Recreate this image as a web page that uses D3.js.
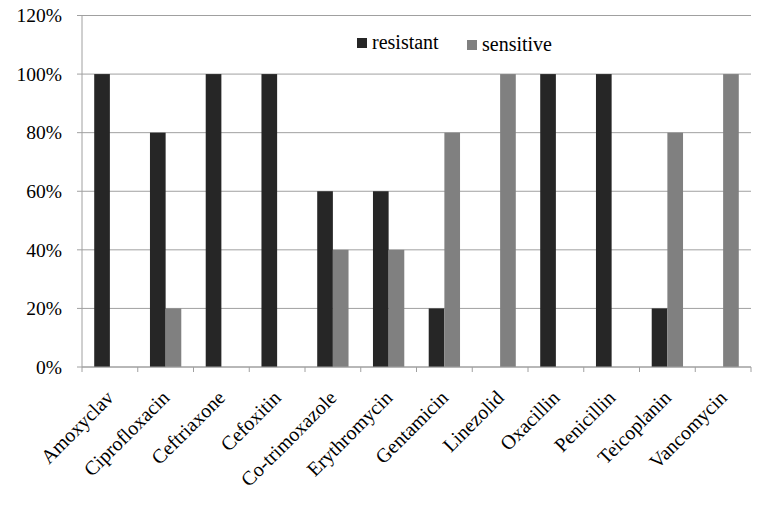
<!DOCTYPE html>
<html>
<head>
<meta charset="utf-8">
<script src="https://cdn.jsdelivr.net/npm/d3@7"></script>
<style>
  body { margin: 0; background: #fff; }
</style>
</head>
<body>
<div id="container"></div>
<script>
// data
const drugs = ['Amoxyclav', 'Ciprofloxacin', 'Ceftriaxone', 'Cefoxitin', 'Co-trimoxazole',
  'Erythromycin', 'Gentamicin', 'Linezolid', 'Oxacillin', 'Penicillin', 'Teicoplanin', 'Vancomycin']
const resistant = [100, 80, 100, 100, 60, 60, 20, 0, 100, 100, 20, 0]
const sensitive = [0, 20, 0, 0, 40, 40, 80, 100, 0, 0, 80, 100]
const seriesNames = ['resistant', 'sensitive']
const seriesColors = ['#262626', '#808080']
const yTicks = [0, 20, 40, 60, 80, 100, 120]

const font = 'Liberation Serif, Times New Roman, serif'
const w = 774
const h = 510
const margin = { top: 15.5, right: 23, bottom: 143, left: 82 }

const svg = d3.select('#container')
  .append('svg')
  .attr('width', w)
  .attr('height', h)

const x = d3.scaleBand()
  .domain(drugs)
  .range([margin.left, w - margin.right])

const xInner = d3.scaleBand()
  .domain(seriesNames)
  .range([0, x.bandwidth()])
  .paddingOuter(0.78)

const y = d3.scaleLinear()
  .domain([0, 120])
  .range([h - margin.bottom, margin.top])

//gridlines
svg.append('g')
  .selectAll('line')
  .data(yTicks)
  .join('line')
  .attr('x1', margin.left - 5)
  .attr('x2', w - margin.right)
  .attr('y1', d => y(d))
  .attr('y2', d => y(d))
  .attr('stroke', '#a0a0a0')
  .attr('stroke-width', 1)

//y labels
svg.append('g')
  .selectAll('text')
  .data(yTicks)
  .join('text')
  .attr('x', margin.left - 20)
  .attr('y', d => y(d))
  .attr('dy', '0.35em')
  .attr('text-anchor', 'end')
  .attr('font-family', font)
  .attr('font-size', 19.5)
  .text(d => d + '%')

//bars
const rows = drugs.map((d, i) => ({ drug: d, values: [resistant[i], sensitive[i]] }))

svg.append('g')
  .selectAll('g')
  .data(rows)
  .join('g')
  .attr('transform', d => `translate(${x(d.drug)},0)`)
  .selectAll('rect')
  .data(d => d.values.map((v, j) => ({ key: seriesNames[j], value: v, color: seriesColors[j] })))
  .join('rect')
  .attr('x', d => xInner(d.key))
  .attr('width', xInner.bandwidth())
  .attr('y', d => y(d.value))
  .attr('height', d => y(0) - y(d.value))
  .attr('fill', d => d.color)

//axes lines
svg.append('line')
  .attr('x1', margin.left).attr('x2', margin.left)
  .attr('y1', y(120)).attr('y2', y(0))
  .attr('stroke', '#a0a0a0')

svg.append('line')
  .attr('x1', margin.left).attr('x2', w - margin.right)
  .attr('y1', y(0)).attr('y2', y(0))
  .attr('stroke', '#a0a0a0')

//x ticks
const xEdges = drugs.map(d => x(d)).concat([w - margin.right])
svg.append('g')
  .selectAll('line')
  .data(xEdges)
  .join('line')
  .attr('x1', d => d).attr('x2', d => d)
  .attr('y1', y(0)).attr('y2', y(0) + 5)
  .attr('stroke', '#a0a0a0')

//x labels
svg.append('g')
  .selectAll('text')
  .data(drugs)
  .join('text')
  .attr('transform', d => `translate(${x(d) + x.bandwidth() / 2 + 5},${y(0) + 32}) rotate(-45)`)
  .attr('text-anchor', 'end')
  .attr('font-family', font)
  .attr('font-size', 20)
  .text(d => d)

//legend
const legend = svg.append('g')
  .selectAll('g')
  .data(seriesNames)
  .join('g')
  .attr('transform', (d, i) => `translate(${357 + i * 110},${38 + i * 2})`)

legend.append('rect')
  .attr('width', 10)
  .attr('height', 10)
  .attr('fill', (d, i) => seriesColors[i])

legend.append('text')
  .attr('x', 15)
  .attr('y', 11)
  .attr('font-family', font)
  .attr('font-size', 20)
  .text(d => d)
</script>
</body>
</html>
